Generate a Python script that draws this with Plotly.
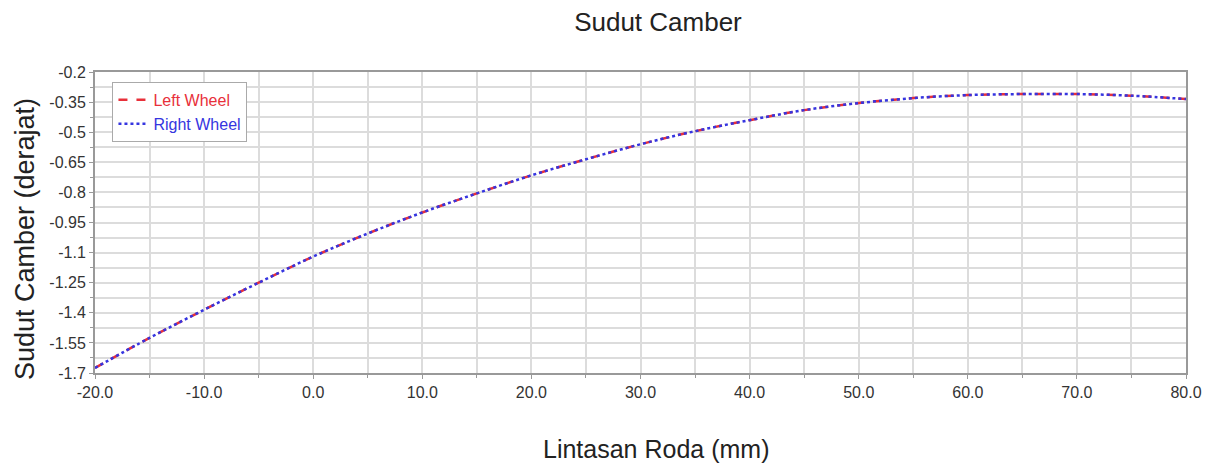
import plotly.graph_objects as go

lintasan = [-20, -15, -10, -5, 0, 5, 10, 15, 20, 25, 30, 35, 40, 45, 50, 55, 60, 65, 70, 75, 80]
left_wheel = [-1.675, -1.525, -1.385, -1.25, -1.12, -1.005, -0.9, -0.805, -0.715, -0.635, -0.56,
              -0.495, -0.44, -0.39, -0.355, -0.33, -0.315, -0.31, -0.31, -0.318, -0.335]
right_wheel = list(left_wheel)

y_tickvals = [-0.2, -0.35, -0.5, -0.65, -0.8, -0.95, -1.1, -1.25, -1.4, -1.55, -1.7]
y_ticktext = ["-0.2", "-0.35", "-0.5", "-0.65", "-0.8", "-0.95", "-1.1", "-1.25", "-1.4", "-1.55", "-1.7"]
x_tickvals = [-20, -10, 0, 10, 20, 30, 40, 50, 60, 70, 80]
x_ticktext = ["-20.0", "-10.0", "0.0", "10.0", "20.0", "30.0", "40.0", "50.0", "60.0", "70.0", "80.0"]
x_minor = [-15, -5, 5, 15, 25, 35, 45, 55, 65, 75]
y_minor = [-0.275, -0.425, -0.575, -0.725, -0.875, -1.025, -1.175, -1.325, -1.475, -1.625]

FONT = "Liberation Sans, Arial, sans-serif"

fig = go.Figure()
fig.add_trace(go.Scatter(
    x=lintasan, y=left_wheel, mode="lines",
    name="<span style='color:#e8303a'>Left Wheel</span>",
    line=dict(color="#e8303a", dash="dash", width=2.5, shape="spline"),
))
fig.add_trace(go.Scatter(
    x=lintasan, y=right_wheel, mode="lines",
    name="<span style='color:#3535e0'>Right Wheel</span>",
    line=dict(color="#3535e0", dash="dot", width=2.5, shape="spline"),
))

fig.update_layout(
    width=1223, height=465,
    margin=dict(l=95, r=37, t=72, b=92),
    paper_bgcolor="white", plot_bgcolor="white",
    font=dict(family=FONT, color="#333333"),
    title=dict(text="Sudut Camber", x=0.538, xanchor="center", y=0.953, yanchor="middle",
               font=dict(size=26, color="#222222", family=FONT)),
    showlegend=True,
    legend=dict(x=0.016, y=0.967, xanchor="left", yanchor="top",
                bgcolor="white", bordercolor="#aaaaaa", borderwidth=1,
                font=dict(size=16, family=FONT), tracegroupgap=0,
                itemwidth=30),
    annotations=[
        dict(text="Lintasan Roda (mm)", xref="paper", yref="paper", x=0.514, y=-0.252,
             xanchor="center", yanchor="middle", showarrow=False,
             font=dict(size=25, color="#222222", family=FONT)),
        dict(text="Sudut Camber (derajat)", xref="paper", yref="paper", x=-0.0642, y=0.445,
             xanchor="center", yanchor="middle", showarrow=False, textangle=-90,
             font=dict(size=27, color="#222222", family=FONT)),
    ],
)

fig.update_xaxes(
    range=[-20, 80], tickvals=x_tickvals, ticktext=x_ticktext,
    showgrid=True, gridcolor="#dcdcdc", gridwidth=1.5,
    minor=dict(tickvals=x_minor, showgrid=True,
               gridcolor="#dcdcdc", gridwidth=1.5, ticks="outside", ticklen=3, tickcolor="#999999"),
    ticks="outside", ticklen=4, tickcolor="#999999",
    showline=True, linecolor="#999999", linewidth=2, mirror=True,
    zeroline=False,
    tickfont=dict(size=16, color="#333333"),
)
fig.update_yaxes(
    range=[-1.7, -0.2], tickvals=y_tickvals, ticktext=y_ticktext,
    showgrid=True, gridcolor="#dcdcdc", gridwidth=1.5,
    minor=dict(tickvals=y_minor,
               showgrid=True, gridcolor="#dcdcdc", gridwidth=1.5, ticks="outside", ticklen=3, tickcolor="#999999"),
    ticks="outside", ticklen=4, tickcolor="#999999",
    showline=True, linecolor="#999999", linewidth=2, mirror=True,
    zeroline=False,
    tickfont=dict(size=16, color="#333333"),
)

fig.write_html("out.html")
